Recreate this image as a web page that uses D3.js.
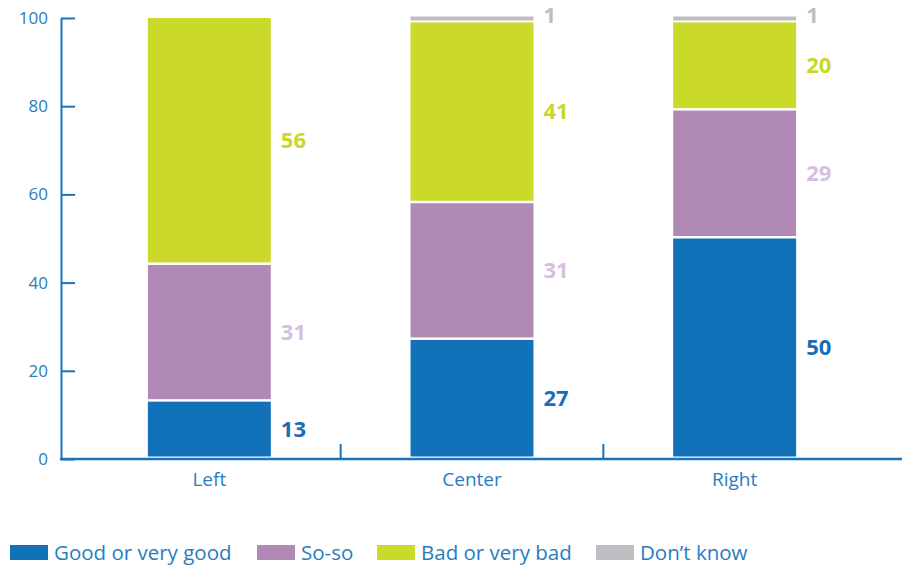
<!DOCTYPE html>
<html>
<head>
<meta charset="utf-8">
<script src="https://cdn.jsdelivr.net/npm/d3@7"></script>
<style>
  body { margin: 0; background: #fff; }
  svg text { font-family: "Open Sans", sans-serif; }
</style>
</head>
<body>
<svg id="chart" width="902" height="566"></svg>
<script>
// chart data
var groups = ["Left", "Center", "Right"];
var seriesNames = ["Good or very good", "So-so", "Bad or very bad", "Don\u2019t know"];
var good = [13, 27, 50];
var soso = [31, 31, 29];
var bad = [56, 41, 20];
var dontKnow = [0, 1, 1];
var yTicks = [0, 20, 40, 60, 80, 100];

var colors = ["#1172ba", "#b08ab5", "#cad92a", "#bdbec2"];
var labelColors = ["#1a6fb3", "#d5c0dc", "#c8d72a", "#bdbec2"];
var axisColor = "#1a73bd";

var svg = d3.select("#chart");

var x = d3.scaleBand().domain(groups).range([78, 866]).paddingInner(0.532).paddingOuter(0.266);
var y = d3.scaleLinear().domain([0, 100]).range([459, 18]);

// build stacked table from the arrays
var table = groups.map(function(g, i) {
    return { group: g, s0: good[i], s1: soso[i], s2: bad[i], s3: dontKnow[i] };
});
var stack = d3.stack().keys(["s0", "s1", "s2", "s3"]);
var layers = stack(table);

// y axis, ticks pointing inward
var yAxis = d3.axisLeft(y).tickValues(yTicks).tickSize(-14).tickSizeOuter(0).tickPadding(13);
var gy = svg.append("g").attr("transform", "translate(61,0)").call(yAxis);
gy.selectAll("path, line").attr("stroke", axisColor).attr("stroke-width", 2);
gy.selectAll("text").attr("fill", "#2a7cc0").attr("font-size", 17);

// x axis baseline and separators
svg.append("line")
    .attr("x1", 60).attr("x2", 902)
    .attr("y1", y(0)).attr("y2", y(0))
    .attr("stroke", axisColor).attr("stroke-width", 2.5);

var step = x.step();
svg.selectAll(".sep")
    .data(groups.slice(1))
    .enter().append("line")
    .attr("class", "sep")
    .attr("x1", function(d) { return x(d) - x.paddingInner() * step / 2; })
    .attr("x2", function(d) { return x(d) - x.paddingInner() * step / 2; })
    .attr("y1", y(0)).attr("y2", y(0) - 15)
    .attr("stroke", axisColor).attr("stroke-width", 2);

svg.selectAll(".xlabel")
    .data(groups)
    .enter().append("text")
    .attr("x", function(d) { return x(d) + x.bandwidth() / 2; })
    .attr("y", 486)
    .attr("text-anchor", "middle")
    .attr("font-size", 19)
    .attr("fill", "#2a7cc0")
    .text(function(d) { return d; });

// stacked bars
layers.forEach(function(layer, li) {
    var g = svg.append("g");
    layer.forEach(function(d) {
        var v = d[1] - d[0];
        if (v <= 0) return;
        var top = y(d[1]);
        var h = y(d[0]) - y(d[1]) - 2.5;
        if (h < 4) { top -= 1.5; h = 4; } // thin slivers stay visible
        g.append("rect")
            .attr("x", x(d.data.group))
            .attr("y", top)
            .attr("width", x.bandwidth())
            .attr("height", h)
            .attr("fill", colors[li]);
        var ly = li === 3 ? top - 1 : top + h / 2;
        g.append("text")
            .attr("x", x(d.data.group) + x.bandwidth() + 10)
            .attr("y", ly)
            .attr("dy", "0.36em")
            .attr("font-size", 22)
            .attr("font-weight", "bold")
            .attr("fill", labelColors[li])
            .text(v);
    });
});

// legend
var legendX = [10, 257, 377, 596];
var legend = svg.selectAll(".legend")
    .data(seriesNames)
    .enter().append("g")
    .attr("class", "legend")
    .attr("transform", function(d, i) { return "translate(" + legendX[i] + ",545)"; });
legend.append("rect")
    .attr("width", 38).attr("height", 15)
    .attr("fill", function(d, i) { return colors[i]; });
legend.append("text")
    .attr("x", 44).attr("y", 8)
    .attr("dy", "0.36em")
    .attr("font-size", 20.5)
    .attr("fill", "#2a7cc0")
    .text(function(d) { return d; });
</script>
</body>
</html>
